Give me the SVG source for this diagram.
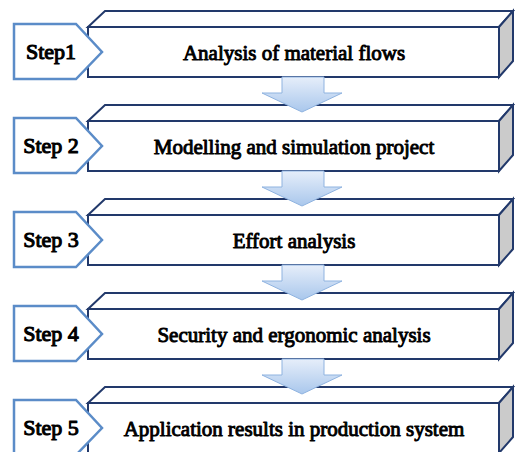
<svg xmlns="http://www.w3.org/2000/svg" width="516" height="452" viewBox="0 0 516 452">
  <style>
    .face { fill: #ffffff; stroke: #22396b; stroke-width: 2; stroke-linejoin: miter; }
    .side { fill: #cbcbcb; stroke: #22396b; stroke-width: 2; stroke-linejoin: miter; }
    .tag { fill: #ffffff; stroke: #5b8cc8; stroke-width: 2.5; stroke-linejoin: miter; }
    text { font-family: "Liberation Serif", "Times New Roman", serif; font-weight: normal; fill: #000; stroke: #000; stroke-linejoin: round; text-anchor: middle; }
    .step { font-size: 22px; stroke-width: 1.1; }
    .label { font-size: 21px; stroke-width: 0.95; }
    .arrow { fill: url(#arrowGrad); stroke: #8fb3e0; stroke-width: 1; stroke-linejoin: miter; }
  </style>
  <defs>
    <linearGradient id="arrowGrad" x1="0" y1="0" x2="0" y2="1">
      <stop offset="0" stop-color="#e6eefa"/>
      <stop offset="1" stop-color="#a9c7ec"/>
    </linearGradient>
    <g id="box">
      <path class="face" d="M88,0 L105,-16 L513,-16 L499,0 Z"/>
      <path class="side" d="M499,0 L513,-16 L513,34 L499,50 Z"/>
      <rect class="face" x="88" y="0" width="411" height="50"/>
      <path class="tag" d="M14,-3 L76,-3 L102,25 L76,52 L14,52 Z"/>
    </g>
    <path id="down" class="arrow" d="M282,50 L324,50 L324,66 L342,66 L302,85 L262,66 L282,66 Z"/>
  </defs>

  <g id="step1" transform="translate(0,27)">
    <use href="#box"/>
    <text class="step" x="51" y="32">Step1</text>
    <text class="label" x="294" y="33">Analysis of material flows</text>
  </g>
  <g id="step2" transform="translate(0,121)">
    <use href="#box"/>
    <text class="step" x="51" y="32">Step 2</text>
    <text class="label" x="294" y="33">Modelling and simulation project</text>
  </g>
  <g id="step3" transform="translate(0,215)">
    <use href="#box"/>
    <text class="step" x="51" y="32">Step 3</text>
    <text class="label" x="294" y="33">Effort analysis</text>
  </g>
  <g id="step4" transform="translate(0,309)">
    <use href="#box"/>
    <text class="step" x="51" y="32">Step 4</text>
    <text class="label" x="294" y="33">Security and ergonomic analysis</text>
  </g>
  <g id="step5" transform="translate(0,403)">
    <use href="#box"/>
    <text class="step" x="51" y="32">Step 5</text>
    <text class="label" x="294" y="33">Application results in production system</text>
  </g>

  <g id="connectors">
    <use href="#down" transform="translate(0,27)"/>
    <use href="#down" transform="translate(0,121)"/>
    <use href="#down" transform="translate(0,215)"/>
    <use href="#down" transform="translate(0,309)"/>
  </g>
</svg>
